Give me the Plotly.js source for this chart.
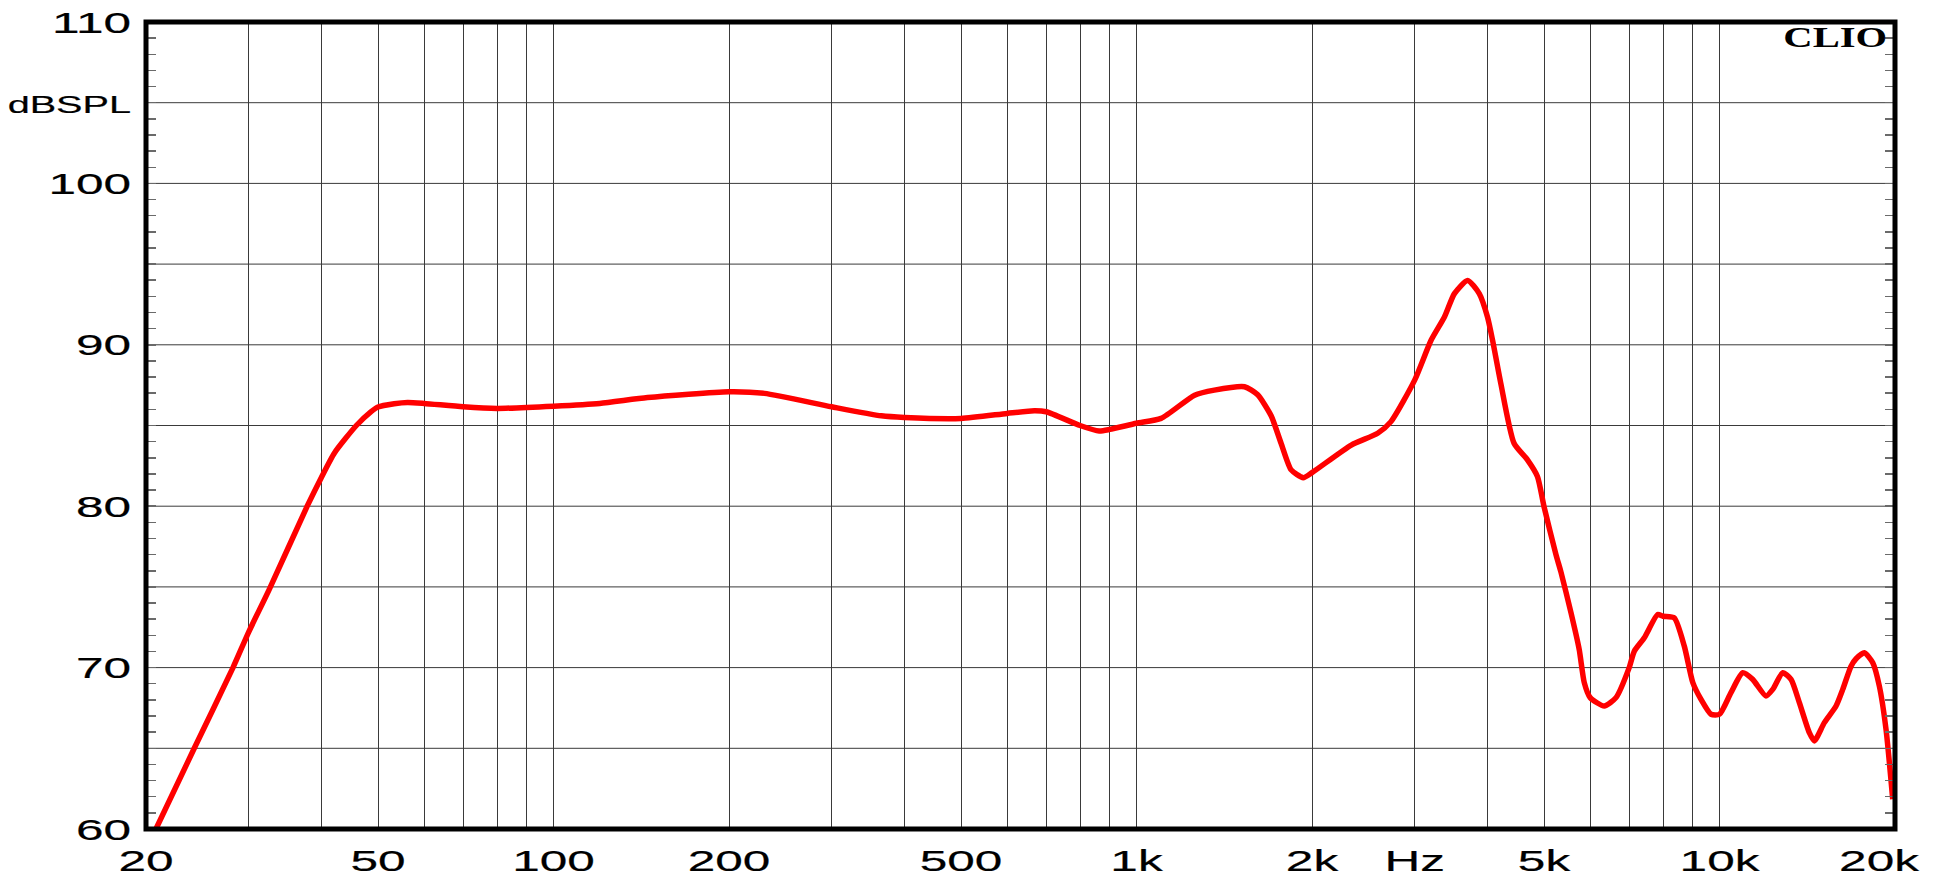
<!DOCTYPE html>
<html>
<head>
<meta charset="utf-8">
<script src="https://cdn.plot.ly/plotly-3.0.1.min.js"></script>
<style>
  html, body { margin: 0; padding: 0; background: #ffffff; }
  #chart { width: 1942px; height: 880px; }
  .xtick text, .ytick text { stroke: #000000; stroke-width: 0.2px; }
</style>
</head>
<body>
<div id="chart"></div>
<script>
// Frequency response (Hz) and SPL (dB)
const freqHz = [20.8, 24.2, 28.2, 30, 32.5, 37.8, 40, 42.1, 45.9, 48.6, 50, 53.3, 56.2, 60, 70, 80, 100, 120, 145, 200, 230, 300, 365, 400, 500, 600, 668, 700, 800, 863, 900, 1000, 1102, 1258, 1360, 1532, 1614, 1702, 1770, 1842, 1932, 2000, 2336, 2592, 2732, 3000, 3201, 3374, 3510, 3698, 3872, 4000, 4081, 4216, 4442, 4684, 4872, 5000, 5242, 5348, 5562, 5746, 5862, 6000, 6344, 6644, 7000, 7142, 7430, 7834, 8000, 8364, 8702, 9000, 9296, 9670, 10000, 10464, 10960, 11402, 12016, 12340, 12838, 13266, 13708, 14258, 14544, 15130, 15846, 16270, 16812, 17148, 17720, 18318, 18800, 19302, 19820];
const splDb = [60.0, 65.0, 70.0, 72.2, 74.8, 80.0, 81.8, 83.3, 85.0, 85.85, 86.15, 86.35, 86.43, 86.37, 86.16, 86.06, 86.2, 86.37, 86.73, 87.09, 86.99, 86.16, 85.6, 85.5, 85.44, 85.75, 85.91, 85.85, 85.0, 84.66, 84.76, 85.14, 85.44, 86.88, 87.19, 87.4, 86.9, 85.6, 83.9, 82.25, 81.77, 82.08, 83.79, 84.52, 85.24, 87.81, 90.28, 91.72, 93.17, 93.99, 93.17, 91.72, 90.28, 87.6, 83.9, 82.87, 81.84, 79.98, 77.0, 75.9, 73.4, 71.12, 69.07, 68.14, 67.62, 68.14, 70.0, 71.02, 71.85, 73.29, 73.18, 73.08, 71.33, 69.07, 68.03, 67.11, 67.11, 68.45, 69.68, 69.27, 68.24, 68.65, 69.68, 69.27, 67.83, 65.97, 65.46, 66.59, 67.62, 68.65, 70.09, 70.55, 70.92, 70.3, 68.86, 66.18, 61.85];

// Axis grid / tick labels
const xGridVals = [20, 30, 40, 50, 60, 70, 80, 90, 100, 200, 300, 400, 500, 600, 700, 800, 900, 1000, 2000, 3000, 4000, 5000, 6000, 7000, 8000, 9000, 10000, 20000];
const xGridText = ['20', '', '', '50', '', '', '', '', '100', '200', '', '', '500', '', '', '', '', '1k', '2k', 'Hz', '', '5k', '', '', '', '', '10k', '20k'];
const yGridVals = [65, 70, 75, 80, 85, 90, 95, 100, 105];
const yLabelVals = [60, 70, 80, 90, 100, 105, 110];
const yLabelText = ['60', '70', '80', '90', '100', 'dBSPL', '110'];
const yRange = [60, 110];
const yMinorStep = 1;
const brand = 'CLIO';

const fontFam = '"Liberation Sans", Arial, sans-serif';
const gridCol = '#3a3a3a';

// tick positions every 1 dB on the frame (axis decoration only)
const yTickVals = [];
const yTickText = [];
for (let v = yRange[0]; v <= yRange[1]; v += yMinorStep) {
  yTickVals.push(v);
  const i = yLabelVals.indexOf(v);
  let t = i >= 0 ? yLabelText[i] : '';
  if (t === 'dBSPL') t = '<span style="font-size:24px">dBSPL</span>';
  yTickText.push(t);
}

const trace = {
  x: freqHz,
  y: splDb,
  type: 'scatter',
  mode: 'lines',
  line: { color: '#ff0000', width: 5.5, shape: 'spline', smoothing: 0.6 },
  hoverinfo: 'skip',
  showlegend: false
};

const gridShapes = yGridVals.map(v => ({
  type: 'line', xref: 'paper', yref: 'y', x0: 0, x1: 1, y0: v, y1: v,
  line: { color: gridCol, width: 1 }, layer: 'below'
}));

const layout = {
  width: 1942,
  height: 880,
  paper_bgcolor: '#ffffff',
  plot_bgcolor: '#ffffff',
  margin: { l: 146, r: 47, t: 22, b: 51, pad: 0 },
  showlegend: false,
  font: { family: fontFam, color: '#000000' },
  xaxis: {
    type: 'log',
    range: [Math.log10(20), Math.log10(20000)],
    tickmode: 'array',
    tickvals: xGridVals,
    ticktext: xGridText,
    ticks: '',
    showgrid: true,
    gridcolor: gridCol,
    gridwidth: 1,
    zeroline: false,
    showline: false,
    tickfont: { family: fontFam, size: 30, color: '#000000' },
    ticklabelstandoff: 11,
    fixedrange: true
  },
  yaxis: {
    range: yRange,
    tickmode: 'array',
    tickvals: yTickVals,
    ticktext: yTickText,
    ticks: 'inside',
    ticklen: 10,
    tickwidth: 1.5,
    tickcolor: '#6a6a6a',
    showgrid: false,
    zeroline: false,
    showline: true,
    linecolor: '#000000',
    linewidth: 1,
    mirror: 'allticks',
    tickfont: { family: fontFam, size: 30, color: '#000000' },
    ticklabelstandoff: 8,
    fixedrange: true
  },
  shapes: gridShapes.concat([
    {
      type: 'rect', xref: 'paper', yref: 'paper', x0: 0, x1: 1, y0: 0, y1: 1,
      line: { color: '#000000', width: 5 }, layer: 'above'
    }
  ]),
  annotations: [
    {
      text: '<b>' + brand + '</b>', xref: 'paper', yref: 'paper', x: 1, y: 1,
      xanchor: 'right', yanchor: 'top', xshift: -6, yshift: 3, showarrow: false,
      font: { family: '"Liberation Serif", "DejaVu Serif", serif', size: 29, color: '#000000' }
    }
  ]
};

// The reference draws its text horizontally widened; reproduce that with textLength.
function widen(el, k) {
  const w = el.getComputedTextLength();
  if (!w) return 0;
  el.setAttribute('textLength', (w * k).toFixed(1));
  el.setAttribute('lengthAdjust', 'spacingAndGlyphs');
  return w;
}

Plotly.newPlot('chart', [trace], layout, { staticPlot: true, displayModeBar: false }).then(gd => {
  gd.querySelectorAll('.xtick text, .ytick text').forEach(el => widen(el, 1.65));
  // keep the last frequency label inside the page like the reference
  const xt = gd.querySelectorAll('.xtick');
  if (xt.length) xt[xt.length - 1].setAttribute('transform', 'translate(-16,0)');
  gd.querySelectorAll('.annotation-text').forEach(el => {
    const k = 1.4;
    const w = widen(el, k);
    const p = el.parentNode;
    const tr = p.getAttribute('transform') || '';
    p.setAttribute('transform', tr + ' translate(' + (-(k - 1) * 0.5 * w).toFixed(1) + ',0)');
  });
});
</script>
</body>
</html>
